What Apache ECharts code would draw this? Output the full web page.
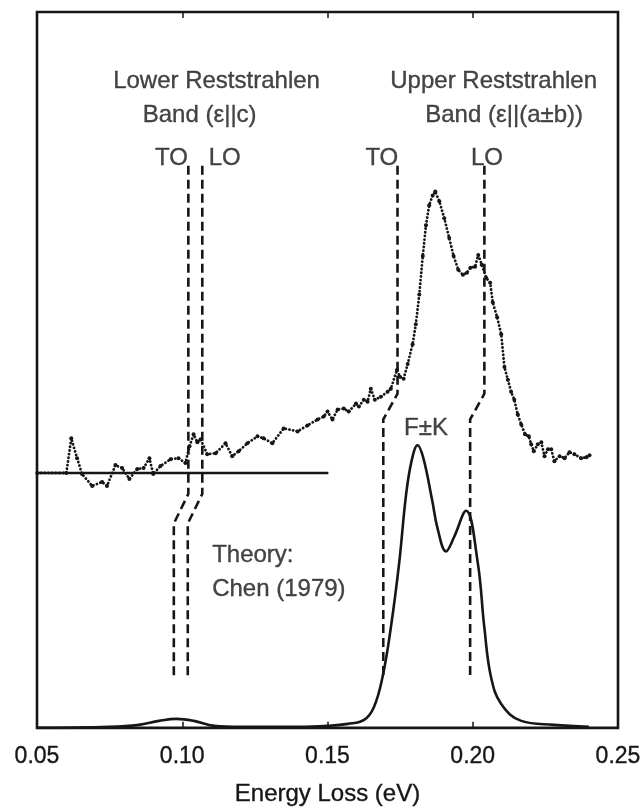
<!DOCTYPE html>
<html>
<head>
<meta charset="utf-8">
<title>Energy Loss</title>
<script src="https://cdn.jsdelivr.net/npm/echarts@6/dist/echarts.min.js"></script>
<style>
	html, body { margin: 0; padding: 0; background: #fff; }
	#main { width: 644px; height: 812px; }
</style>
</head>
<body>
<div id="main"></div>
<script>
// measured spectrum (energy in eV, intensity in arbitrary units)
var expEnergy = [0.0501, 0.0601, 0.0618, 0.0638, 0.0655, 0.0690, 0.0724, 0.0741, 0.0770, 0.0793,
	0.0818, 0.0845, 0.0867, 0.0887, 0.0900, 0.0925, 0.0960, 0.0987, 0.1011, 0.1025,
	0.1039, 0.1052, 0.1063, 0.1086, 0.1115, 0.1149, 0.1172, 0.1194, 0.1224, 0.1259,
	0.1280, 0.1310, 0.1349, 0.1397, 0.1431, 0.1466, 0.1487, 0.1500, 0.1517, 0.1535,
	0.1556, 0.1573, 0.1598, 0.1608, 0.1625, 0.1638, 0.1649, 0.1663, 0.1684, 0.1707,
	0.1718, 0.1739, 0.1749, 0.1762, 0.1776, 0.1793, 0.1804, 0.1816, 0.1828, 0.1839,
	0.1850, 0.1862, 0.1871, 0.1885, 0.1902, 0.1919, 0.1934, 0.1950, 0.1966, 0.1980,
	0.1992, 0.2008, 0.2019, 0.2031, 0.2046, 0.2060, 0.2069, 0.2084, 0.2098, 0.2109,
	0.2121, 0.2132, 0.2143, 0.2155, 0.2167, 0.2180, 0.2193, 0.2201, 0.2210, 0.2224,
	0.2236, 0.2247, 0.2259, 0.2270, 0.2281, 0.2299, 0.2316, 0.2333, 0.2350, 0.2373,
	0.2391, 0.2402];
var expIntensity = [257, 257, 292, 272, 256, 244, 248, 244, 265, 262,
	251, 261, 262, 272, 256, 264, 271, 272, 267, 284,
	296, 288, 291, 276, 277, 287, 274, 279, 287, 294,
	292, 287, 302, 299, 305, 311, 314, 319, 311, 321,
	322, 319, 327, 324, 331, 329, 342, 331, 334, 339,
	342, 361, 354, 352, 367, 387, 407, 437, 476, 507,
	527, 537, 541, 531, 514, 494, 476, 462, 457, 459,
	464, 465, 477, 467, 454, 449, 429, 414, 397, 364,
	351, 339, 331, 316, 306, 296, 294, 286, 279, 286,
	288, 274, 281, 281, 269, 274, 272, 278, 276, 272,
	273, 275];

// theory: Chen (1979)
var theoryEnergy = [0.050, 0.075, 0.085, 0.092, 0.098, 0.104, 0.111, 0.120, 0.140, 0.150,
	0.157, 0.1626, 0.166, 0.169, 0.1718, 0.1747, 0.177, 0.179, 0.181, 0.183,
	0.186, 0.1879, 0.1908, 0.1935, 0.1977, 0.2017, 0.204, 0.2063, 0.2098, 0.2167,
	0.228, 0.240];
var theoryIntensity = [0, 1, 3, 7, 9, 7, 2, 1, 1, 2,
	4, 8, 21, 52, 101, 167, 234, 270, 285, 272,
	230, 201, 178, 192, 219, 167, 101, 51, 24, 7,
	3, 1];

// zero level of the measured spectrum
var zeroLine = [[0.05, 257], [0.1503, 257]];

// TO / LO phonon positions: [x, y] along each dashed guide
var lowerTO = [[0.1021, 567], [0.1021, 236], [0.0971, 206], [0.0971, 51]];
var lowerLO = [[0.1069, 567], [0.1069, 236], [0.1019, 206], [0.1019, 51]];
var upperTO = [[0.1741, 567], [0.1741, 337], [0.1692, 311], [0.1692, 51]];
var upperLO = [[0.2040, 567], [0.2040, 337], [0.1991, 311], [0.1991, 51]];

// text annotations
var annoText = ['Lower Reststrahlen', 'Band (ε||c)', 'TO', 'LO',
	'Upper Reststrahlen', 'Band (ε||(a±b))', 'TO', 'LO',
	'F±K', 'Theory:', 'Chen (1979)'];
var annoX = [0.1118, 0.1060, 0.0963, 0.1146, 0.2072, 0.2108, 0.1687, 0.2049, 0.1839, 0.1103, 0.1103];
var annoY = [652, 618, 574, 574, 652, 618, 574, 574, 302, 174, 140];
var annoLeft = [false, false, false, false, false, false, false, false, false, true, true];

var xTicks = [0.05, 0.10, 0.15, 0.20, 0.25];

var INK = '#161616';
var FONT = 'Liberation Sans, Arial, Helvetica, sans-serif';

function zip(a, b) {
	var out = [];
	for (var i = 0; i < a.length; i++) {
		out.push([a[i], b[i]]);
	}
	return out;
}

function guide(points) {
	return {
		type: 'line',
		data: points,
		symbol: 'none',
		silent: true,
		animation: false,
		lineStyle: { color: INK, width: 2.6, type: [9, 5] },
		z: 3
	};
}

var annoData = [];
for (var i = 0; i < annoText.length; i++) {
	annoData.push({
		value: [annoX[i], annoY[i]],
		label: {
			formatter: annoText[i],
			position: annoLeft[i] ? 'right' : 'inside',
			distance: 0
		}
	});
}

var myChart = echarts.init(document.getElementById('main'));

var option = {
	backgroundColor: '#fff',
	animation: false,
	grid: {
		left: 37,
		right: 26,
		top: 12,
		bottom: 78,
		show: true,
		borderColor: INK,
		borderWidth: 2.6
	},
	xAxis: [{
		type: 'value',
		min: xTicks[0],
		max: xTicks[xTicks.length - 1],
		interval: 0.05,
		position: 'bottom',
		name: 'Energy Loss (eV)',
		nameLocation: 'middle',
		nameGap: 55,
		nameTextStyle: {
			color: INK, fontSize: 24, fontFamily: FONT,
			textBorderColor: INK, textBorderWidth: 0.35
		},
		axisLine: { show: false },
		axisTick: { show: true, inside: true, length: 6, lineStyle: { color: INK, width: 1.5 } },
		axisLabel: {
			color: INK, fontSize: 23, fontFamily: FONT, margin: 17,
			textBorderColor: INK, textBorderWidth: 0.35,
			formatter: function(v) { return v.toFixed(2); }
		},
		splitLine: { show: false }
	}, {
		type: 'value',
		min: xTicks[0],
		max: xTicks[xTicks.length - 1],
		interval: 0.05,
		position: 'top',
		axisLine: { show: false },
		axisTick: { show: true, inside: true, length: 6, lineStyle: { color: INK, width: 1.5 } },
		axisLabel: { show: false },
		splitLine: { show: false }
	}],
	yAxis: {
		type: 'value',
		min: 0,
		max: 722,
		axisLine: { show: false },
		axisTick: { show: false },
		axisLabel: { show: false },
		splitLine: { show: false }
	},
	series: [
		{
			// theory curve
			type: 'line',
			data: zip(theoryEnergy, theoryIntensity),
			smooth: 0.4,
			symbol: 'none',
			lineStyle: { color: INK, width: 2.6 },
			z: 4
		},
		{
			type: 'line',
			data: zeroLine,
			symbol: 'none',
			lineStyle: { color: INK, width: 2.6 },
			z: 2
		},
		{
			// measured spectrum
			type: 'line',
			data: zip(expEnergy, expIntensity),
			symbol: 'circle',
			symbolSize: 4,
			itemStyle: { color: INK },
			lineStyle: { color: INK, width: 2.8, type: [0.1, 3.6], cap: 'round' },
			z: 5
		},
		guide(lowerTO),
		guide(lowerLO),
		guide(upperTO),
		guide(upperLO),
		{
			type: 'scatter',
			data: annoData,
			symbolSize: 0,
			silent: true,
			label: {
				show: true,
				color: INK,
				fontSize: 24,
				fontFamily: FONT,
				textBorderColor: INK,
				textBorderWidth: 0.35
			},
			z: 6
		}
	]
};

myChart.setOption(option);
window.addEventListener('resize', function() {
	myChart.resize();
});
</script>
</body>
</html>
